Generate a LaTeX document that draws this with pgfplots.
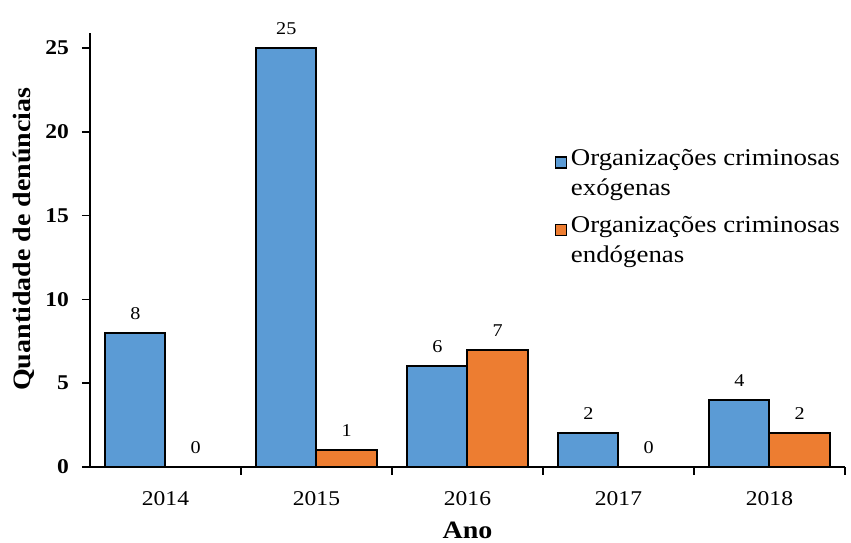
\documentclass[border=0pt]{standalone}
\usepackage{fontspec}
\setmainfont{Liberation Serif}[FakeStretch=1.12]
\usepackage{pgfplots}
\pgfplotsset{compat=1.18}
\definecolor{cblue}{RGB}{91,155,213}
\definecolor{corange}{RGB}{237,125,49}
\begin{document}
\begin{tikzpicture}
\begin{axis}[
  scale only axis,
  width=377.5pt, height=217pt,
  ybar=0pt, bar width=0.4,
  xmin=-0.5, xmax=4.5,
  ymin=0, ymax=25.9,
  axis lines=left,
  axis line style={-, line width=1pt},
  x axis line style={line width=0.8pt},
  xtick={0,1,2,3,4},
  xticklabels={2014,2015,2016,2017,2018},
  minor xtick={0.5,1.5,2.5,3.5,4.5},
  major x tick style={draw=none},
  minor x tick style={black, line width=0.8pt},
  ytick={0,5,10,15,20,25},
  y tick style={black, line width=0.8pt},
  tick align=outside,
  major tick length=4pt, minor tick length=4pt,
  /pgf/number format/assume math mode=true,
  xticklabel style={font=\fontsize{10.5}{12}\selectfont, yshift=-4.5pt},
  yticklabel style={font=\fontsize{10.5}{12}\selectfont\bfseries, xshift=-3pt},
  xlabel={Ano},
  ylabel={Quantidade de denúncias},
  xlabel style={font=\fontsize{12.5}{14}\selectfont\bfseries, at={(axis description cs:0.5,0)}, anchor=center, yshift=-31.5pt},
  ylabel style={font=\fontsize{12.5}{14}\selectfont\bfseries, at={(axis description cs:0,0.525)}, anchor=center, yshift=33pt},
  nodes near coords,
  every node near coord/.append style={font=\fontsize{9}{10}\selectfont, yshift=3pt},
  legend style={at={(axis description cs:0.615,0.742)}, anchor=north west, draw=none, fill=none,
    font=\fontsize{12}{15}\selectfont, cells={align=left}, row sep=5pt, inner sep=0pt},
  legend cell align=left,
  legend image code/.code={\draw[#1, line width=0.6pt] (0pt,3pt) rectangle (5.5pt,8.5pt);},
]
\addplot[fill=cblue, draw=black, line width=1pt] coordinates {(0,8) (1,25) (2,6) (3,2) (4,4)};
\addplot[fill=corange, draw=black, line width=1pt] coordinates {(0,0) (1,1) (2,7) (3,0) (4,2)};
\legend{Organizações criminosas\\exógenas, Organizações criminosas\\endógenas}
\end{axis}
\path (current axis.south west) ++(-45pt,-38pt) coordinate (bl);
\path (current axis.north east) ++(3pt,16.5pt) coordinate (tr);
\pgfresetboundingbox
\path[use as bounding box] (bl) rectangle (tr);
\end{tikzpicture}
\end{document}
